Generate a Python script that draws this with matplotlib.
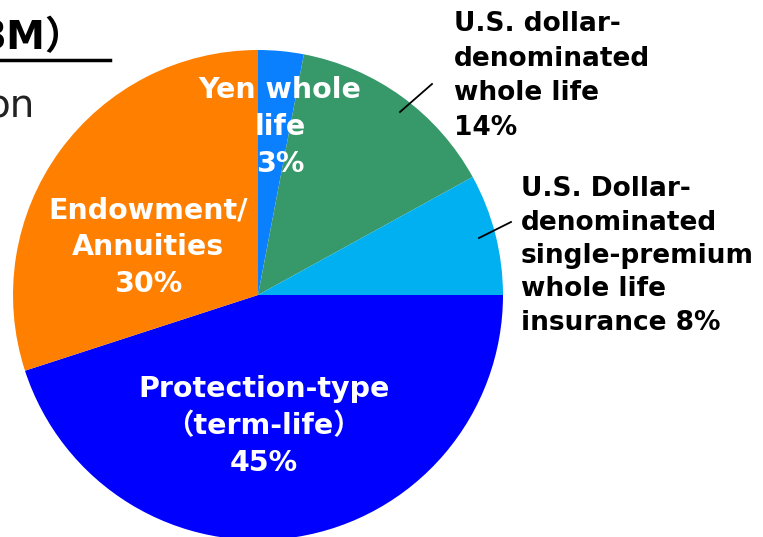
import matplotlib.pyplot as plt

plt.rcParams['font.family'] = ['DejaVu Sans', 'Noto Sans CJK JP']

labels = ['Yen whole\nlife\n3%',
          'U.S. dollar-\ndenominated\nwhole life\n14%',
          'U.S. Dollar-\ndenominated\nsingle-premium\nwhole life\ninsurance 8%',
          'Protection-type\n\uff08term-life\uff09\n45%',
          'Endowment/\nAnnuities\n30%']
shares = [3, 14, 8, 45, 30]
colors = ['#0A80FF', '#37996A', '#00B0F0', '#0000FF', '#FF8000']

W, H = 763, 537


def py(y):
    # pixel row from top -> data y
    return H - y


fig = plt.figure(figsize=(W / 100, H / 100), dpi=100)
ax = fig.add_axes([0, 0, 1, 1])

ax.pie(shares, colors=colors, startangle=90, counterclock=False,
       center=(258, py(295)), radius=245, frame=True,
       wedgeprops=dict(linewidth=0))
ax.set_xlim(0, W)
ax.set_ylim(0, H)
ax.set_aspect('equal')
ax.axis('off')

# labels inside the slices (white)
inside = {0: (280, 127), 3: (264, 426), 4: (148, 247)}
for i, (x, y) in inside.items():
    ax.text(x, py(y), labels[i], color='white', fontsize=20.5, fontweight='bold',
            ha='center', va='center', linespacing=1.4)

# labels outside with leader lines
ax.text(454, py(76), labels[1], color='black', fontsize=19, fontweight='bold',
        ha='left', va='center', linespacing=1.42)
ax.plot([400, 432], [py(112), py(84)], color='black', lw=1.3)
ax.text(521, py(256), labels[2], color='black', fontsize=19, fontweight='bold',
        ha='left', va='center', linespacing=1.37)
ax.plot([479, 511], [py(238), py(222)], color='black', lw=1.3)

# leftover of the slide title
ax.text(84, py(38), '3M\uff09', color='black', fontsize=28, fontweight='bold',
        ha='right', va='center')
ax.plot([0, 110], [py(60), py(60)], color='black', lw=2.5)
ax.text(35, py(106), 'on', color='#222222', fontsize=28,
        ha='right', va='center')

fig.savefig('out.png', dpi=100)
